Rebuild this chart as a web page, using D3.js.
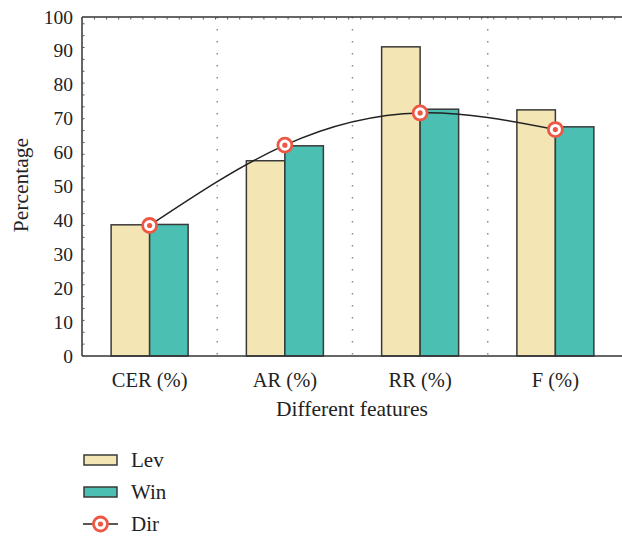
<!DOCTYPE html>
<html>
<head>
<meta charset="utf-8">
<script src="https://cdn.jsdelivr.net/npm/d3@7"></script>
<style>
body { margin: 0; background: #fff; }
text { font-family: "Liberation Serif", "DejaVu Serif", serif; fill: #222; }
</style>
</head>
<body>
<svg class="chart" width="622" height="536"></svg>
<script>
let categories = ["CER (%)", "AR (%)", "RR (%)", "F (%)"]
let series = ["Lev", "Win"]
let lev_values = [38.7, 57.6, 91.2, 72.6]
let win_values = [38.8, 62.0, 72.8, 67.6]
let dir_values = [38.5, 62.2, 71.7, 66.8]
let y_ticks = [0, 10, 20, 30, 40, 50, 60, 70, 80, 90, 100]

let colors = {Lev: "#f4e5b4", Win: "#4bbfb1"}
let red = "#ec5845"

let width = 622
let height = 536
let margin = {left: 82, top: 17, right: -1, bottom: 180}

let svg = d3.select(".chart")

let x = d3.scaleBand()
    .domain(categories)
    .range([margin.left, width - margin.right])

let bar_w = 38.5
let xs = d3.scaleBand()
    .domain(series)
    .range([x.bandwidth() / 2 - bar_w, x.bandwidth() / 2 + bar_w])

let y = d3.scaleLinear()
    .domain([0, 100])
    .range([height - margin.bottom, margin.top])

// dotted separators between groups
svg.selectAll("line.sep")
    .data(categories.slice(1))
    .enter().append("line")
    .classed("sep", true)
    .attr("x1", d => x(d))
    .attr("x2", d => x(d))
    .attr("y1", y(100))
    .attr("y2", y(0))
    .attr("stroke", "#8a8a8a")
    .attr("stroke-width", 1.5)
    .attr("stroke-dasharray", "1.5,10.5")

let rows = categories.map((c, i) => {
    return {category: c, Lev: lev_values[i], Win: win_values[i]}
})

// bars
let groups = svg.selectAll("g.group")
    .data(rows)
    .enter().append("g")
    .classed("group", true)
    .attr("transform", d => `translate(${x(d.category)},0)`)

groups.selectAll("rect")
    .data(d => series.map(s => { return {key: s, value: d[s]} }))
    .enter().append("rect")
        .attr("x", d => xs(d.key))
        .attr("y", d => y(d.value))
        .attr("width", xs.bandwidth())
        .attr("height", d => y(0) - y(d.value))
        .attr("fill", d => colors[d.key])
        .attr("stroke", "#3a3a3a")
        .attr("stroke-width", 1.5)

// axes frame
let x0 = margin.left
let x1 = width - margin.right
svg.append("line")
    .attr("x1", x0).attr("x2", x1)
    .attr("y1", y(0)).attr("y2", y(0))
    .attr("stroke", "#333").attr("stroke-width", 1.5)
svg.append("line")
    .attr("x1", x0).attr("x2", x1)
    .attr("y1", y(100)).attr("y2", y(100))
    .attr("stroke", "#333").attr("stroke-width", 1.5)
svg.append("line")
    .attr("x1", x0).attr("x2", x0)
    .attr("y1", y(0)).attr("y2", y(100))
    .attr("stroke", "#333").attr("stroke-width", 1.5)

// small ticks on top border
svg.selectAll("line.ttick")
    .data(d3.range(x0 + 12.5, x1, 12.1))
    .enter().append("line")
    .classed("ttick", true)
    .attr("x1", d => d).attr("x2", d => d)
    .attr("y1", y(100)).attr("y2", y(100) + 2.5)
    .attr("stroke", "#555").attr("stroke-width", 1)

// left ticks
svg.selectAll("line.ltick")
    .data(d3.range(0, 100, 3.5))
    .enter().append("line")
    .classed("ltick", true)
    .attr("x1", x0).attr("x2", x0 + 2.5)
    .attr("y1", d => y(d)).attr("y2", d => y(d))
    .attr("stroke", "#555").attr("stroke-width", 1)

// y tick labels
svg.selectAll("text.ylab")
    .data(y_ticks)
    .enter().append("text")
    .classed("ylab", true)
    .attr("x", 73)
    .attr("y", d => y(d) + 6.5)
    .attr("text-anchor", "end")
    .attr("font-size", 19.5)
    .text(d => d)

// x tick labels
svg.selectAll("text.xlab")
    .data(categories)
    .enter().append("text")
    .classed("xlab", true)
    .attr("x", d => x(d) + x.bandwidth() / 2)
    .attr("y", 387)
    .attr("text-anchor", "middle")
    .attr("font-size", 20.5)
    .text(d => d)

svg.append("text")
    .attr("x", 352)
    .attr("y", 416)
    .attr("text-anchor", "middle")
    .attr("font-size", 21.5)
    .text("Different features")

svg.append("text")
    .attr("transform", "translate(28,185) rotate(-90)")
    .attr("text-anchor", "middle")
    .attr("font-size", 21.5)
    .text("Percentage")

// Dir line
let cx = (d, i) => x(categories[i]) + x.bandwidth() / 2
let line = d3.line()
    .x(cx)
    .y(d => y(d))
    .curve(d3.curveNatural)

svg.append("path")
    .datum(dir_values)
    .attr("d", line)
    .attr("fill", "none")
    .attr("stroke", "#222")
    .attr("stroke-width", 1.5)

function draw_marker(g, px, py) {
    g.append("circle")
        .attr("cx", px).attr("cy", py).attr("r", 7)
        .attr("fill", "#fff")
        .attr("stroke", red).attr("stroke-width", 2.8)
    g.append("circle")
        .attr("cx", px).attr("cy", py).attr("r", 2.6)
        .attr("fill", red)
}

dir_values.forEach((d, i) => draw_marker(svg, cx(d, i), y(d)))

// legend
let legend = svg.append("g")
let legend_items = ["Lev", "Win"]
legend.selectAll("rect")
    .data(legend_items)
    .enter().append("rect")
    .attr("x", 84)
    .attr("y", (d, i) => 455 + i * 32)
    .attr("width", 33)
    .attr("height", 10)
    .attr("fill", d => colors[d])
    .attr("stroke", "#3a3a3a")
    .attr("stroke-width", 1.5)

legend.selectAll("text")
    .data(["Lev", "Win", "Dir"])
    .enter().append("text")
    .attr("x", 131)
    .attr("y", (d, i) => 467 + i * 32)
    .attr("font-size", 21)
    .text(d => d)

legend.append("line")
    .attr("x1", 83).attr("x2", 118)
    .attr("y1", 524).attr("y2", 524)
    .attr("stroke", "#222").attr("stroke-width", 1.5)
draw_marker(legend, 100.5, 524)
</script>
</body>
</html>
